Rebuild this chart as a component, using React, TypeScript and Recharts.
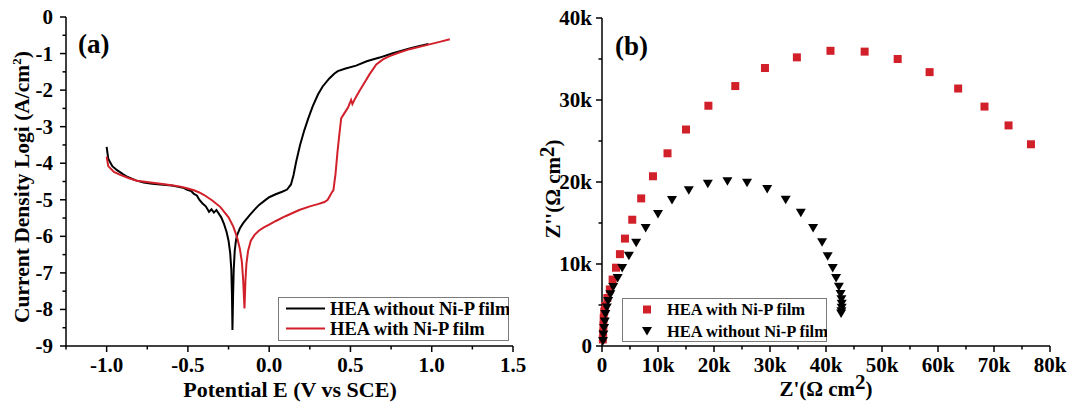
import {
  LineChart,
  Line,
  ScatterChart,
  Scatter,
  XAxis,
  YAxis,
  Legend,
  Customized,
} from 'recharts';

// (a) polarization curves: potential E (V vs SCE) vs log current density
const bareE = [
  -1.0, -0.99, -0.965, -0.936, -0.9, -0.874, -0.82, -0.772, -0.72, -0.669, -0.6, -0.566, -0.53, -0.504,
  -0.48, -0.463, -0.445, -0.43, -0.41, -0.39, -0.37, -0.355, -0.34, -0.325, -0.31, -0.295, -0.278, -0.262,
  -0.25, -0.24, -0.233, -0.229, -0.226, -0.222, -0.218, -0.212, -0.204, -0.196, -0.18, -0.16, -0.144, -0.12,
  -0.09, -0.062, -0.03, 0.0, 0.04, 0.08, 0.11, 0.134, 0.15, 0.165, 0.19, 0.216, 0.24, 0.267, 0.3, 0.329,
  0.37, 0.4, 0.422, 0.47, 0.535, 0.6, 0.679, 0.761, 0.864, 0.926, 0.98,
];
const bareLogI = [
  -3.55, -3.88, -4.08, -4.19, -4.3, -4.37, -4.47, -4.53, -4.56, -4.58, -4.61, -4.64, -4.67, -4.73,
  -4.76, -4.84, -4.88, -5.0, -5.1, -5.18, -5.33, -5.26, -5.35, -5.28, -5.38, -5.48, -5.66, -5.88,
  -6.12, -6.45, -6.9, -7.6, -8.56, -7.6, -6.9, -6.4, -6.1, -5.95, -5.78, -5.64, -5.55, -5.42,
  -5.27, -5.14, -5.03, -4.93, -4.85, -4.78, -4.72, -4.58, -4.32, -3.98, -3.5, -3.1, -2.78, -2.45, -2.12, -1.9,
  -1.68, -1.55, -1.48, -1.41, -1.33, -1.21, -1.11, -0.99, -0.86, -0.79, -0.74,
];
const filmE = [
  -1.0, -0.99, -0.955, -0.916, -0.862, -0.813, -0.741, -0.669, -0.6, -0.545, -0.5, -0.463, -0.43, -0.4,
  -0.35, -0.3, -0.25, -0.22, -0.196, -0.18, -0.168, -0.16, -0.152, -0.146, -0.14, -0.13, -0.113, -0.09,
  -0.062, -0.03, 0.0, 0.041, 0.1, 0.185, 0.25, 0.3, 0.34, 0.36, 0.375, 0.385, 0.395, 0.408, 0.42, 0.432,
  0.443, 0.46, 0.485, 0.504, 0.512, 0.53, 0.556, 0.586, 0.617, 0.659, 0.7, 0.741, 0.8, 0.864, 0.967, 1.049, 1.111,
];
const filmLogI = [
  -3.82, -4.08, -4.24, -4.32, -4.41, -4.48, -4.52, -4.56, -4.6, -4.64, -4.69, -4.74, -4.8, -4.87,
  -5.02, -5.2, -5.48, -5.74, -6.05, -6.35, -6.7, -7.2, -7.97, -7.2, -6.75, -6.4, -6.12, -5.96,
  -5.84, -5.75, -5.68, -5.58, -5.45, -5.28, -5.18, -5.12, -5.06, -5.0, -4.88, -4.8, -4.74, -4.3, -3.7, -3.2,
  -2.77, -2.65, -2.48, -2.27, -2.38, -2.22, -2.02, -1.8, -1.57, -1.3, -1.16, -1.07, -0.97, -0.88, -0.77, -0.68, -0.61,
];

// (b) Nyquist plots, Z' and Z'' in ohm cm2
const filmZre = [
  150, 200, 250, 300, 400, 550, 950, 1400, 1900, 2500, 3200, 4100, 5400, 7000, 9100, 11700, 15000,
  19000, 23800, 29100, 34800, 40800, 46900, 52800, 58500, 63600, 68300, 72600, 76600,
];
const filmZim = [
  800, 1600, 2500, 3400, 4200, 4900, 5850, 6900, 8100, 9550, 11200, 13100, 15400, 18000, 20700, 23500, 26400,
  29300, 31700, 33900, 35200, 36000, 35900, 35000, 33400, 31400, 29200, 26900, 24600,
];
const bareZre = [
  180, 250, 370, 500, 600, 860, 1100, 1500, 2000, 2800, 3600, 4800, 6100, 7800, 10000, 12500, 15500,
  18900, 22400, 25900, 29500, 32800, 35500, 37700, 39300, 40300, 41200, 41800, 42300, 42600, 42750,
  42800, 42800, 42750, 42700,
];
const bareZim = [
  600, 1400, 2200, 3000, 3900, 4700, 5500, 6300, 7200, 8300, 9500, 11000, 12600, 14400, 16100, 17800, 19000,
  19800, 20100, 19900, 19150, 17850, 16250, 14400, 12650, 10950, 9500, 8280, 7220, 6350, 5700,
  5150, 4650, 4250, 3950,
];

// ticks
const eMajor = [-1.0, -0.5, 0.0, 0.5, 1.0, 1.5];
const eLabels = ['-1.0', '-0.5', '0.0', '0.5', '1.0', '1.5'];
const eMinor = [-1.25, -0.75, -0.25, 0.25, 0.75, 1.25];
const iMajor = [0, -1, -2, -3, -4, -5, -6, -7, -8, -9];
const iLabels = ['0', '-1', '-2', '-3', '-4', '-5', '-6', '-7', '-8', '-9'];
const iMinor = [-0.5, -1.5, -2.5, -3.5, -4.5, -5.5, -6.5, -7.5, -8.5];
const zreMajor = [0, 10000, 20000, 30000, 40000, 50000, 60000, 70000, 80000];
const zreLabels = ['0', '10k', '20k', '30k', '40k', '50k', '60k', '70k', '80k'];
const zreMinor = [5000, 15000, 25000, 35000, 45000, 55000, 65000, 75000];
const zimMajor = [0, 10000, 20000, 30000, 40000];
const zimLabels = ['0', '10k', '20k', '30k', '40k'];
const zimMinor = [5000, 15000, 25000, 35000];

const FONT = '"Liberation Serif", "Times New Roman", serif';
const RED = '#d2202a';

const bareCurve = bareE.map((e, i) => ({ e, logI: bareLogI[i] }));
const filmCurve = filmE.map((e, i) => ({ e, logI: filmLogI[i] }));
const filmPoints = filmZre.map((zre, i) => ({ zre, zim: filmZim[i] }));
const barePoints = bareZre.map((zre, i) => ({ zre, zim: bareZim[i] }));

const allTicks = (a: number[], b: number[]) => [...a, ...b].sort((p, q) => p - q);

const makeTick = (majors: number[], labels: string[], side: 'x' | 'y', gap: number) => (props: any) => {
  const { x, y, payload } = props;
  const idx = majors.findIndex((m) => Math.abs(m - payload.value) < 1e-6);
  const len = idx >= 0 ? 6 : 3.5;
  if (side === 'x') {
    return (
      <g>
        <line x1={x} x2={x} y1={y} y2={y + len} stroke="#000" strokeWidth={1.5} />
        {idx >= 0 && (
          <text x={x} y={y + 26} textAnchor="middle" fontFamily={FONT} fontWeight="bold" fontSize={21} fill="#000">
            {labels[idx]}
          </text>
        )}
      </g>
    );
  }
  return (
    <g>
      <line x1={x - len} x2={x} y1={y} y2={y} stroke="#000" strokeWidth={1.5} />
      {idx >= 0 && (
        <text x={x - gap} y={y + 7} textAnchor="end" fontFamily={FONT} fontWeight="bold" fontSize={21} fill="#000">
          {labels[idx]}
        </text>
      )}
    </g>
  );
};

const txt = { fontFamily: FONT, fontWeight: 'bold' as const, fill: '#000' };

function TitlesA() {
  return (
    <g>
      <text x={78} y={53} fontSize={27} {...txt}>(a)</text>
      <text x={290} y={397} textAnchor="middle" fontSize={22} {...txt}>Potential E (V vs SCE)</text>
      <text x={29} y={187} transform="rotate(-90, 29, 187)" textAnchor="middle" fontSize={21.5} {...txt}>
        Current Density Logi (A/cm<tspan dy={-8} fontSize={13}>2</tspan><tspan dy={8}>)</tspan>
      </text>
    </g>
  );
}

function TitlesB() {
  return (
    <g>
      <text x={79} y={55} fontSize={27} {...txt}>(b)</text>
      <text x={290} y={396} textAnchor="middle" fontSize={21} {...txt}>
        Z'(Ω cm<tspan dy={-7}>2</tspan><tspan dy={7}>)</tspan>
      </text>
      <text x={24} y={189} transform="rotate(-90, 24, 189)" textAnchor="middle" fontSize={21} {...txt}>
        Z''(Ω cm<tspan dy={-6}>2</tspan><tspan dy={6}>)</tspan>
      </text>
    </g>
  );
}

const Square = (p: any) => <rect x={p.cx - 4} y={p.cy - 4} width={8} height={8} fill={RED} />;
const TriDown = (p: any) => (
  <polygon points={`${p.cx - 5},${p.cy - 4} ${p.cx + 5},${p.cy - 4} ${p.cx},${p.cy + 4.5}`} fill="#000" />
);

function LegendA() {
  return (
    <svg width={231} height={44} style={{ display: 'block' }}>
      <rect x={0.5} y={0.5} width={230} height={43} fill="#fff" stroke="#7a7a7a" strokeWidth={1} />
      <line x1={8} x2={47} y1={11.5} y2={11.5} stroke="#000" strokeWidth={2} />
      <line x1={8} x2={47} y1={31.5} y2={31.5} stroke={RED} strokeWidth={2} />
      <text x={52} y={17.5} fontSize={18.5} {...txt}>HEA without Ni-P film</text>
      <text x={52} y={37.5} fontSize={18.5} {...txt}>HEA with Ni-P film</text>
    </svg>
  );
}

function LegendB() {
  return (
    <svg width={205} height={44} style={{ display: 'block' }}>
      <rect x={0.5} y={0.5} width={204} height={43} fill="#fff" stroke="#7a7a7a" strokeWidth={1} />
      <Square cx={25} cy={11.5} />
      <TriDown cx={25} cy={33} />
      <text x={45} y={17} fontSize={16.5} {...txt}>HEA with Ni-P film</text>
      <text x={45} y={39} fontSize={16.5} {...txt}>HEA without Ni-P film</text>
    </svg>
  );
}

function TafelPanel() {
  return (
    <LineChart width={536} height={402} margin={{ top: 17, right: 23, bottom: 0, left: 0 }}>
      <XAxis
        dataKey="e"
        type="number"
        domain={[-1.25, 1.5]}
        ticks={allTicks(eMajor, eMinor)}
        interval={0}
        height={56}
        tickSize={0}
        tickMargin={0}
        tickLine={false}
        axisLine={{ stroke: '#000', strokeWidth: 1.5 }}
        tick={makeTick(eMajor, eLabels, 'x', 0)}
      />
      <XAxis xAxisId="top" orientation="top" type="number" domain={[-1.25, 1.5]} height={0} tick={false} tickLine={false} axisLine={{ stroke: '#000', strokeWidth: 1.5 }} />
      <YAxis
        type="number"
        domain={[-9, 0]}
        ticks={allTicks(iMajor, iMinor)}
        interval={0}
        width={66}
        tickSize={0}
        tickMargin={0}
        tickLine={false}
        axisLine={{ stroke: '#000', strokeWidth: 1.5 }}
        tick={makeTick(iMajor, iLabels, 'y', 13)}
      />
      <YAxis yAxisId="right" orientation="right" type="number" domain={[-9, 0]} width={0} tick={false} tickLine={false} axisLine={{ stroke: '#000', strokeWidth: 1.5 }} />
      <Line data={bareCurve} dataKey="logI" type="linear" stroke="#000" strokeWidth={2} dot={false} isAnimationActive={false} />
      <Line data={filmCurve} dataKey="logI" type="linear" stroke={RED} strokeWidth={2} dot={false} isAnimationActive={false} />
      <Legend
        layout="vertical"
        align="center"
        verticalAlign="middle"
        wrapperStyle={{ position: 'absolute', left: 278, top: 297, width: 231, height: 44 }}
        content={() => <LegendA />}
      />
      <Customized component={TitlesA} />
    </LineChart>
  );
}

function NyquistPanel() {
  return (
    <ScatterChart width={536} height={402} margin={{ top: 18, right: 22, bottom: 0, left: 0 }}>
      <XAxis
        dataKey="zre"
        type="number"
        domain={[0, 80000]}
        ticks={allTicks(zreMajor, zreMinor)}
        interval={0}
        height={56}
        tickSize={0}
        tickMargin={0}
        tickLine={false}
        axisLine={{ stroke: '#000', strokeWidth: 1.5 }}
        tick={makeTick(zreMajor, zreLabels, 'x', 0)}
      />
      <XAxis xAxisId="top" orientation="top" type="number" domain={[0, 80000]} height={0} tick={false} tickLine={false} axisLine={{ stroke: '#000', strokeWidth: 1.5 }} />
      <YAxis
        dataKey="zim"
        type="number"
        domain={[0, 40000]}
        ticks={allTicks(zimMajor, zimMinor)}
        interval={0}
        width={66}
        tickSize={0}
        tickMargin={0}
        tickLine={false}
        axisLine={{ stroke: '#000', strokeWidth: 1.5 }}
        tick={makeTick(zimMajor, zimLabels, 'y', 10)}
      />
      <YAxis yAxisId="right" orientation="right" type="number" domain={[0, 40000]} width={0} tick={false} tickLine={false} axisLine={{ stroke: '#000', strokeWidth: 1.5 }} />
      <Scatter data={filmPoints} shape={Square} isAnimationActive={false} />
      <Scatter data={barePoints} shape={TriDown} isAnimationActive={false} />
      <Legend
        layout="vertical"
        align="center"
        verticalAlign="middle"
        wrapperStyle={{ position: 'absolute', left: 86, top: 298, width: 205, height: 44 }}
        content={() => <LegendB />}
      />
      <Customized component={TitlesB} />
    </ScatterChart>
  );
}

export default function App() {
  return (
    <div style={{ position: 'relative', width: 1072, height: 402, background: '#fff', overflow: 'hidden' }}>
      <style>{'body{margin:0}'}</style>
      <div style={{ position: 'absolute', left: 0, top: 0 }}>
        <TafelPanel />
      </div>
      <div style={{ position: 'absolute', left: 536, top: 0 }}>
        <NyquistPanel />
      </div>
    </div>
  );
}
